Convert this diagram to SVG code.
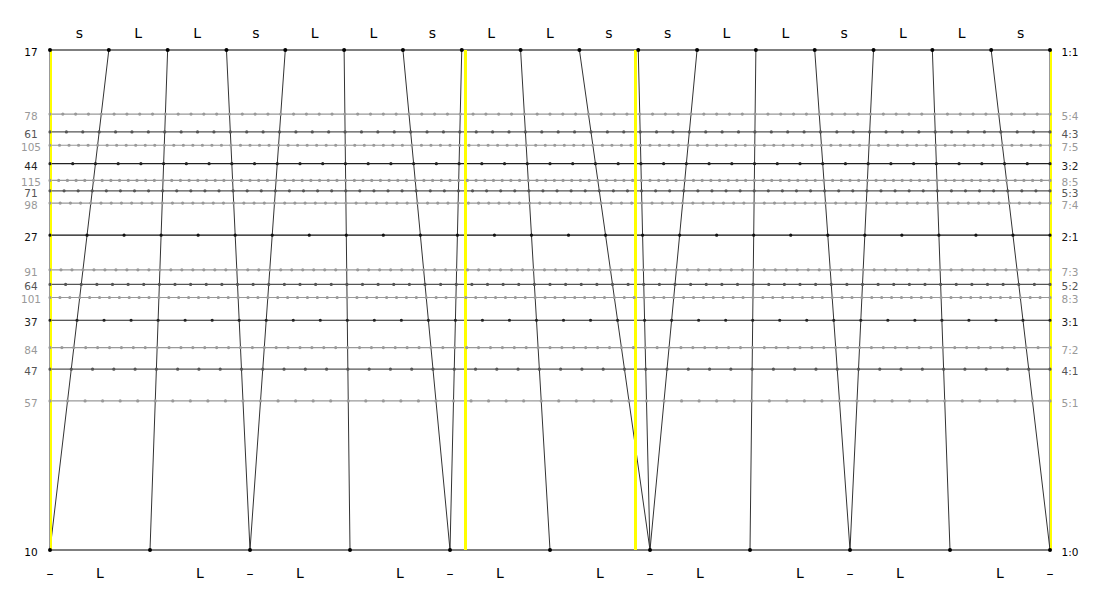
<svg xmlns="http://www.w3.org/2000/svg" width="1100" height="600" viewBox="0 0 1100 600">
<style>
text { font-family: "DejaVu Sans", "Liberation Sans", sans-serif; }
.step { font-size: 14px; text-anchor: middle; fill: #000; }
.lab { font-size: 10.5px; text-anchor: middle; }
.h { stroke-width: 1.2; }
.dots { stroke-linecap: round; stroke-width: 3.2; }
.c0 { stroke: #000; fill: #000; }
.c0 text, .c1 text, .c2 text, .c3 text, .c4 text { stroke: none; }
.c1 { stroke: #111; fill: #111; }
.c2 { stroke: #222; fill: #222; }
.c3 { stroke: #555; fill: #555; }
.c4 { stroke: #999; fill: #999; }
.conn line { stroke: #333; stroke-width: 1; }
.yel line { stroke: #ffff00; }
</style>
<rect width="1100" height="600" fill="#fff"/>

<g id="rows">
<g id="row-17" class="c0"><line class="h" x1="50" y1="50" x2="1050" y2="50"/><text class="lab" x="31" y="56">17</text><text class="lab" x="1070" y="56">1:1</text></g>
<g id="row-78" class="c4"><line class="h" x1="50" y1="114.10" x2="1050" y2="114.10"/><text class="lab" x="31" y="120">78</text><text class="lab" x="1070" y="120">5:4</text></g>
<g id="row-61" class="c3"><line class="h" x1="50" y1="131.97" x2="1050" y2="131.97"/><text class="lab" x="31" y="137.9">61</text><text class="lab" x="1070" y="137.9">4:3</text></g>
<g id="row-105" class="c4"><line class="h" x1="50" y1="145.24" x2="1050" y2="145.24"/><text class="lab" x="31" y="151.1">105</text><text class="lab" x="1070" y="151.1">7:5</text></g>
<g id="row-44" class="c2"><line class="h" x1="50" y1="163.64" x2="1050" y2="163.64"/><text class="lab" x="31" y="169.5">44</text><text class="lab" x="1070" y="169.5">3:2</text></g>
<g id="row-115" class="c4"><line class="h" x1="50" y1="180.43" x2="1050" y2="180.43"/><text class="lab" x="31" y="186">115</text><text class="lab" x="1070" y="186">8:5</text></g>
<g id="row-71" class="c3"><line class="h" x1="50" y1="190.85" x2="1050" y2="190.85"/><text class="lab" x="31" y="196.9">71</text><text class="lab" x="1070" y="196.9">5:3</text></g>
<g id="row-98" class="c4"><line class="h" x1="50" y1="203.06" x2="1050" y2="203.06"/><text class="lab" x="31" y="209">98</text><text class="lab" x="1070" y="209">7:4</text></g>
<g id="row-27" class="c1"><line class="h" x1="50" y1="235.19" x2="1050" y2="235.19"/><text class="lab" x="31" y="241.1">27</text><text class="lab" x="1070" y="241.1">2:1</text></g>
<g id="row-91" class="c4"><line class="h" x1="50" y1="269.78" x2="1050" y2="269.78"/><text class="lab" x="31" y="275.7">91</text><text class="lab" x="1070" y="275.7">7:3</text></g>
<g id="row-64" class="c3"><line class="h" x1="50" y1="284.38" x2="1050" y2="284.38"/><text class="lab" x="31" y="290.3">64</text><text class="lab" x="1070" y="290.3">5:2</text></g>
<g id="row-101" class="c4"><line class="h" x1="50" y1="297.52" x2="1050" y2="297.52"/><text class="lab" x="31" y="303.4">101</text><text class="lab" x="1070" y="303.4">8:3</text></g>
<g id="row-37" class="c2"><line class="h" x1="50" y1="320.27" x2="1050" y2="320.27"/><text class="lab" x="31" y="326.2">37</text><text class="lab" x="1070" y="326.2">3:1</text></g>
<g id="row-84" class="c4"><line class="h" x1="50" y1="347.62" x2="1050" y2="347.62"/><text class="lab" x="31" y="353.5">84</text><text class="lab" x="1070" y="353.5">7:2</text></g>
<g id="row-47" class="c3"><line class="h" x1="50" y1="369.15" x2="1050" y2="369.15"/><text class="lab" x="31" y="375">47</text><text class="lab" x="1070" y="375">4:1</text></g>
<g id="row-57" class="c4"><line class="h" x1="50" y1="400.88" x2="1050" y2="400.88"/><text class="lab" x="31" y="406.8">57</text><text class="lab" x="1070" y="406.8">5:1</text></g>
<g id="row-10" class="c0"><line class="h" x1="50" y1="550" x2="1050" y2="550"/><text class="lab" x="31" y="556">10</text><text class="lab" x="1070" y="556">1:0</text></g>
</g>

<g id="connectors" class="conn">
<line x1="50" y1="50" x2="50" y2="550"/>
<line x1="108.824" y1="50" x2="50" y2="550"/>
<line x1="167.647" y1="50" x2="150" y2="550"/>
<line x1="226.471" y1="50" x2="250" y2="550"/>
<line x1="285.294" y1="50" x2="250" y2="550"/>
<line x1="344.118" y1="50" x2="350" y2="550"/>
<line x1="402.941" y1="50" x2="450" y2="550"/>
<line x1="461.765" y1="50" x2="450" y2="550"/>
<line x1="520.588" y1="50" x2="550" y2="550"/>
<line x1="579.412" y1="50" x2="650" y2="550"/>
<line x1="638.235" y1="50" x2="650" y2="550"/>
<line x1="697.059" y1="50" x2="650" y2="550"/>
<line x1="755.882" y1="50" x2="750" y2="550"/>
<line x1="814.706" y1="50" x2="850" y2="550"/>
<line x1="873.529" y1="50" x2="850" y2="550"/>
<line x1="932.353" y1="50" x2="950" y2="550"/>
<line x1="991.176" y1="50" x2="1050" y2="550"/>
<line x1="1050" y1="50" x2="1050" y2="550"/>
</g>

<g id="consonances" class="yel">
<line x1="51" y1="50" x2="51" y2="550" stroke-width="2"/>
<line x1="465.5" y1="50" x2="465.5" y2="550" stroke-width="3"/>
<line x1="635.5" y1="50" x2="635.5" y2="550" stroke-width="3"/>
<line x1="1051" y1="50" x2="1051" y2="550" stroke-width="2"/>
</g>

<g id="dots" class="dots">
<line class="c0" x1="50" y1="50" x2="1050.5" y2="50" stroke-dasharray="0 58.8235" stroke-width="4"/>
<line class="c4" x1="50" y1="114.10" x2="1050.5" y2="114.10" stroke-dasharray="0 12.8205"/>
<line class="c3" x1="50" y1="131.97" x2="1050.5" y2="131.97" stroke-dasharray="0 16.3934"/>
<line class="c4" x1="50" y1="145.24" x2="1050.5" y2="145.24" stroke-dasharray="0 9.5238"/>
<line class="c2" x1="50" y1="163.64" x2="1050.5" y2="163.64" stroke-dasharray="0 22.7273"/>
<line class="c4" x1="50" y1="180.43" x2="1050.5" y2="180.43" stroke-dasharray="0 8.6957"/>
<line class="c3" x1="50" y1="190.85" x2="1050.5" y2="190.85" stroke-dasharray="0 14.0845"/>
<line class="c4" x1="50" y1="203.06" x2="1050.5" y2="203.06" stroke-dasharray="0 10.2041"/>
<line class="c1" x1="50" y1="235.19" x2="1050.5" y2="235.19" stroke-dasharray="0 37.0370"/>
<line class="c4" x1="50" y1="269.78" x2="1050.5" y2="269.78" stroke-dasharray="0 10.9890"/>
<line class="c3" x1="50" y1="284.38" x2="1050.5" y2="284.38" stroke-dasharray="0 15.625"/>
<line class="c4" x1="50" y1="297.52" x2="1050.5" y2="297.52" stroke-dasharray="0 9.9010"/>
<line class="c2" x1="50" y1="320.27" x2="1050.5" y2="320.27" stroke-dasharray="0 27.0270"/>
<line class="c4" x1="50" y1="347.62" x2="1050.5" y2="347.62" stroke-dasharray="0 11.9048"/>
<line class="c3" x1="50" y1="369.15" x2="1050.5" y2="369.15" stroke-dasharray="0 21.2766"/>
<line class="c4" x1="50" y1="400.88" x2="1050.5" y2="400.88" stroke-dasharray="0 17.5439"/>
<line class="c0" x1="50" y1="550" x2="1050.5" y2="550" stroke-dasharray="0 100" stroke-width="4"/>
</g>

<g id="top-steps" class="step">
<text x="79.41" y="38">s</text>
<text x="138.24" y="38">L</text>
<text x="197.06" y="38">L</text>
<text x="255.88" y="38">s</text>
<text x="314.71" y="38">L</text>
<text x="373.53" y="38">L</text>
<text x="432.35" y="38">s</text>
<text x="491.18" y="38">L</text>
<text x="550" y="38">L</text>
<text x="608.82" y="38">s</text>
<text x="667.65" y="38">s</text>
<text x="726.47" y="38">L</text>
<text x="785.29" y="38">L</text>
<text x="844.12" y="38">s</text>
<text x="902.94" y="38">L</text>
<text x="961.76" y="38">L</text>
<text x="1020.59" y="38">s</text>
</g>

<g id="bottom-steps" class="step">
<text x="50" y="578">–</text>
<text x="100" y="578">L</text>
<text x="200" y="578">L</text>
<text x="250" y="578">–</text>
<text x="300" y="578">L</text>
<text x="400" y="578">L</text>
<text x="450" y="578">–</text>
<text x="500" y="578">L</text>
<text x="600" y="578">L</text>
<text x="650" y="578">–</text>
<text x="700" y="578">L</text>
<text x="800" y="578">L</text>
<text x="850" y="578">–</text>
<text x="900" y="578">L</text>
<text x="1000" y="578">L</text>
<text x="1050" y="578">–</text>
</g>
</svg>
